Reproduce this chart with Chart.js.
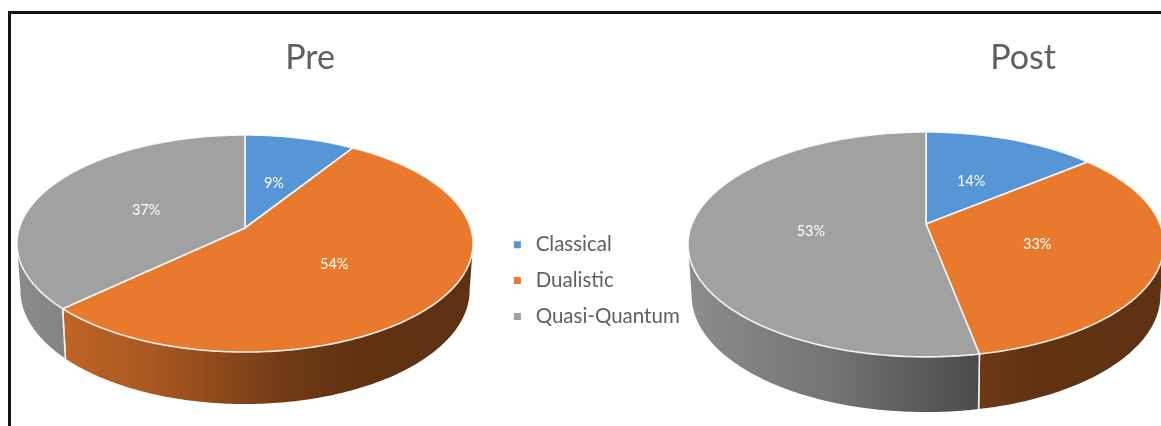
<!DOCTYPE html>
<html>
<head>
<meta charset="utf-8">
<script src="https://cdn.jsdelivr.net/npm/chart.js@4/dist/chart.umd.js"></script>
<style>
  html, body { margin: 0; padding: 0; background: #fff; overflow: hidden; }
  #stage { position: relative; width: 1161px; height: 426px; overflow: hidden; }
  #frame { position: absolute; left: 8px; top: 11px; width: 1200px; height: 500px;
           border-left: 3px solid #141414; border-top: 3px solid #141414; }
  #pies { position: absolute; left: 0; top: 0; }
</style>
</head>
<body>
<div id="stage">
  <div id="frame"></div>
  <canvas id="pies" width="1161" height="426"></canvas>
</div>
<script>
// Share of each view of the world, before and after the course.
const categories = ['Classical', 'Dualistic', 'Quasi-Quantum'];
const preValues = [9, 54, 37];
const postValues = [14, 33, 53];
const panelTitles = ['Pre', 'Post'];
const sliceColors = ['#5695D6', '#E97A2D', '#A1A1A1'];

// Perspective view of each disc: apex position, radii, foreshortening k,
// and how the lower face is displaced from the upper one.
const views = [
  { cx: 245, cy: 228, a: 225.7, b: 106.3, k: 0.143, dy: 46, sx: 0.985, sy: 1.048, titleX: 310 },
  { cx: 926, cy: 224, a: 234.0, b: 108.7, k: 0.182, dy: 50, sx: 0.985, sy: 1.039, titleX: 1023 }
];
const titleY = 58;
const legendBox = { left: 494, top: 219 };
const labelRadius = 0.49;
const labelDrop = 2;
const textColor = '#606060';

// Brightness of the side wall from the left to the right of the disc.
const wallShade = [[0, 0.87], [0.3, 0.72], [0.6, 0.47], [0.75, 0.41], [1, 0.40]];

function project(view, theta, r, lower) {
  const u = Math.sin(theta) * r, v = -Math.cos(theta) * r;
  const w = 1 - view.k * v;
  const a = lower ? view.a * view.sx : view.a;
  const b = lower ? view.b * view.sy : view.b;
  return { x: view.cx + a * u / w, y: view.cy + (lower ? view.dy : 0) + b * v / w };
}

function traceArc(ctx, view, from, to, lower) {
  const steps = Math.max(2, Math.ceil(Math.abs(to - from) / 0.015));
  for (let i = 0; i <= steps; i++) {
    const p = project(view, from + (to - from) * i / steps, 1, lower);
    ctx.lineTo(p.x, p.y);
  }
}

function shade(hex, f) {
  const n = parseInt(hex.slice(1), 16);
  const c = [(n >> 16) & 255, (n >> 8) & 255, n & 255].map(x => Math.round(x * f));
  return `rgb(${c[0]},${c[1]},${c[2]})`;
}

// Arcs are painted as a face and a wall of the tilted disc, using the
// angles the doughnut controller has worked out for them.
Chart.ArcElement.prototype.draw = function (ctx) {
  const view = views[this.$context.datasetIndex];
  const color = this.options.backgroundColor;
  const start = this.startAngle + Math.PI / 2;
  const end = this.endAngle + Math.PI / 2;
  const edge = Math.acos(-view.k);
  const from = Math.max(start, edge);
  const to = Math.min(end, 2 * Math.PI - edge);

  ctx.save();
  ctx.lineJoin = 'round';
  ctx.strokeStyle = 'rgba(255,255,255,0.88)';
  ctx.lineWidth = 1.6;

  if (to > from) {
    const halfWidth = view.a / Math.sqrt(1 - view.k * view.k);
    const grad = ctx.createLinearGradient(view.cx - halfWidth, 0, view.cx + halfWidth, 0);
    wallShade.forEach(([pos, f]) => grad.addColorStop(pos, shade(color, f)));
    ctx.beginPath();
    traceArc(ctx, view, from, to, false);
    traceArc(ctx, view, to, from, true);
    ctx.closePath();
    ctx.fillStyle = grad;
    ctx.fill();
    [[start, from], [end, to]].forEach(([angle, clipped]) => {
      if (angle === clipped) {
        const t = project(view, angle, 1, false), b = project(view, angle, 1, true);
        ctx.beginPath();
        ctx.moveTo(t.x, t.y);
        ctx.lineTo(b.x, b.y);
        ctx.stroke();
      }
    });
  }

  ctx.beginPath();
  ctx.moveTo(view.cx, view.cy);
  traceArc(ctx, view, start, end, false);
  ctx.closePath();
  ctx.fillStyle = color;
  ctx.fill();
  ctx.stroke();
  ctx.restore();
};

const tiltedPiePlugin = {
  id: 'tiltedPie',
  // The shared legend sits between the two discs.
  afterLayout(chart) {
    const lg = chart.legend;
    const w = lg.width, h = lg.height;
    lg.left = legendBox.left; lg.right = legendBox.left + w;
    lg.top = legendBox.top; lg.bottom = legendBox.top + h;
  },
  afterDatasetsDraw(chart) {
    const ctx = chart.ctx;
    ctx.save();
    ctx.textAlign = 'center';
    ctx.textBaseline = 'middle';
    chart.data.datasets.forEach((ds, di) => {
      const view = views[di];
      chart.getDatasetMeta(di).data.forEach((arc, i) => {
        const mid = (arc.startAngle + arc.endAngle) / 2 + Math.PI / 2;
        const p = project(view, mid, labelRadius, false);
        ctx.font = '14.5px Lato';
        ctx.fillStyle = '#ffffff';
        ctx.fillText(ds.data[i] + '%', p.x, p.y + labelDrop);
      });
      ctx.font = '34px Lato';
      ctx.fillStyle = textColor;
      ctx.fillText(ds.label, view.titleX, titleY);
    });
    ctx.restore();
  }
};

new Chart(document.getElementById('pies'), {
  type: 'doughnut',
  data: {
    labels: categories,
    datasets: [
      { label: panelTitles[0], data: preValues, backgroundColor: sliceColors, borderWidth: 0, clip: false },
      { label: panelTitles[1], data: postValues, backgroundColor: sliceColors, borderWidth: 0, clip: false }
    ]
  },
  options: {
    responsive: false,
    animation: false,
    events: [],
    plugins: {
      title: { display: false },
      tooltip: { enabled: false },
      legend: {
        display: true,
        position: 'right',
        align: 'start',
        labels: {
          usePointStyle: true,
          pointStyle: 'rect',
          boxWidth: 16,
          boxHeight: 7,
          padding: 15.4,
          color: textColor,
          font: { family: 'Lato', size: 20.5 }
        }
      }
    }
  },
  plugins: [tiltedPiePlugin]
});
</script>
</body>
</html>
